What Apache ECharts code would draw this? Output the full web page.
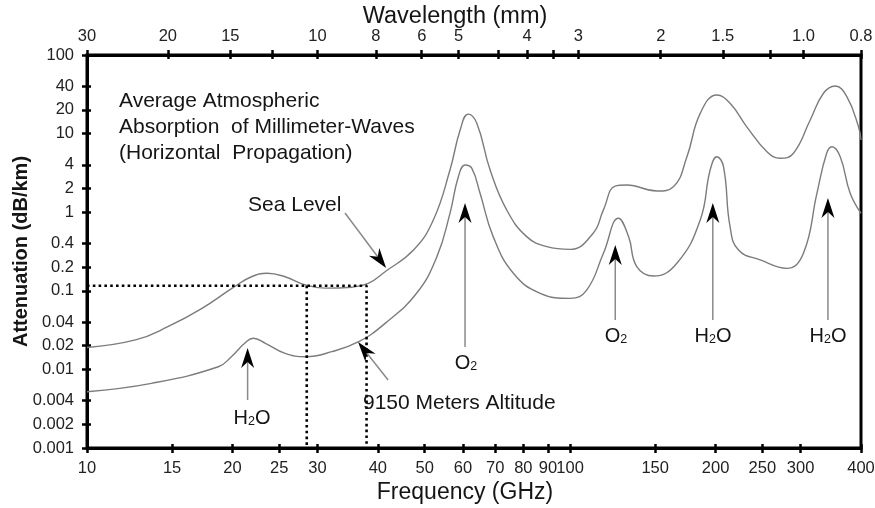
<!DOCTYPE html>
<html>
<head>
<meta charset="utf-8">
<script src="https://cdn.jsdelivr.net/npm/echarts@6/dist/echarts.min.js"></script>
<style>
  html, body { margin: 0; padding: 0; background: #fff; }
  #chart { width: 875px; height: 508px; }
</style>
</head>
<body>
<div id="chart"></div>
<script>
// Axis ticks
const freqTicks = [10, 15, 20, 25, 30, 40, 50, 60, 70, 80, 90, 100, 150, 200, 250, 300, 400];
const attTicks = [0.001, 0.002, 0.004, 0.01, 0.02, 0.04, 0.1, 0.2, 0.4, 1, 2, 4, 10, 20, 40, 100];
const attTickLabels = ['0.001', '0.002', '0.004', '0.01', '0.02', '0.04', '0.1', '0.2', '0.4', '1', '2', '4', '10', '20', '40', '100'];
// Wavelength scale along the top edge (frequency position of each tick, mm label)
const waveTickFreq = [10, 14.7, 19.8, 24.2, 30, 39.6, 49.3, 58.8, 70.9, 81.5, 92.4, 104, 154, 207, 259, 304, 400];
const waveTickLabels = ['30', '20', '15', '', '10', '8', '6', '5', '', '4', '', '3', '2', '1.5', '', '1.0', '0.8'];

// Sea level attenuation (GHz, dB/km)
const seaFreq = [10, 12.6, 14.7, 17.3, 20.2, 21.9, 23.6, 25.7, 28.3, 31.1, 35.3, 38.2, 41.4, 47.4, 52.1, 56.4, 59.2, 61.5, 64.1, 68.3, 73.9, 81.3, 89.5, 100, 111.6, 117.2, 123.9, 131, 151.2, 163.6, 174.5, 185.9, 201.2, 214.3, 232.1, 255.5, 272.1, 289.9, 314, 334.5, 353.7, 373.9, 395.3, 400];
const seaAtt = [0.019, 0.0237, 0.0349, 0.0598, 0.113, 0.151, 0.167, 0.151, 0.119, 0.108, 0.111, 0.124, 0.175, 0.33, 0.796, 3.44, 11.1, 17.7, 13.5, 3.44, 1.07, 0.489, 0.364, 0.337, 0.54, 1.07, 2.15, 2.22, 1.86, 2.11, 5.08, 18.1, 31.0, 24.3, 12.2, 5.89, 4.85, 5.62, 14.9, 32.6, 40.4, 29.5, 12.2, 8.3];

// 9150 m altitude attenuation (GHz, dB/km)
const altFreq = [10, 13.6, 18.7, 19.9, 21.2, 22.1, 23.4, 25.7, 28.3, 32.1, 36.5, 41.4, 48.1, 53.0, 56.4, 58.7, 60.6, 62.6, 65.1, 69.3, 76.3, 86.7, 100, 108.2, 117.2, 125.9, 132.1, 137.4, 148.8, 166.3, 185.9, 194.9, 201.2, 207.7, 214.3, 223.1, 247.4, 280.8, 304, 324.2, 339.6, 348.3, 362.3, 379.9, 400];
const altAtt = [0.0052, 0.00665, 0.0108, 0.0145, 0.0215, 0.0249, 0.0215, 0.016, 0.0145, 0.0168, 0.0225, 0.0385, 0.093, 0.272, 0.968, 2.83, 3.98, 3.61, 1.74, 0.489, 0.167, 0.093, 0.08, 0.102, 0.30, 0.836, 0.489, 0.203, 0.154, 0.224, 0.796, 3.44, 5.08, 3.79, 0.655, 0.33, 0.247, 0.193, 0.30, 1.74, 5.62, 6.81, 5.08, 1.74, 0.97];

// Dotted reference level and the two frequencies where it meets the curves
const refLevel = 0.116;
const refFreqs = [28.5, 37.9];

// Annotation arrows: [tail, tip] in (GHz, dB/km)
const arrows = [
  [[34.2, 0.977], [41.6, 0.195]],
  [[42.0, 0.00733], [36.4, 0.0223]],
  [[21.5, 0.00408], [21.5, 0.0187]],
  [[60.6, 0.0193], [60.6, 1.31]],
  [[124, 0.0425], [124, 0.383]],
  [[197.4, 0.0425], [197.4, 1.31]],
  [[341.7, 0.0425], [341.7, 1.52]]
];

const FONT = '"Liberation Sans", Arial, Helvetica, sans-serif';
const INK = '#151515';

function pickLabel(ticks, labels, v) {
  for (let i = 0; i < ticks.length; i++) {
    if (Math.abs(Math.log10(v) - Math.log10(ticks[i])) < 1e-4) return labels[i];
  }
  return '';
}

const chart = echarts.init(document.getElementById('chart'), null, { renderer: 'canvas' });

const gridRect = { left: 87, right: 14, top: 55, bottom: 60 };

const baseX = {
  type: 'log', logBase: 10, min: 10, max: 400, gridIndex: 0,
  splitLine: { show: false }, minorTick: { show: false }
};
const baseY = {
  type: 'log', logBase: 10, min: 0.001, max: 100, gridIndex: 0,
  splitLine: { show: false }, minorTick: { show: false }
};
const tickLabelStyle = { fontSize: 16.5, color: '#222', fontFamily: FONT };

const option = {
  animation: false,
  backgroundColor: '#fff',
  textStyle: { fontFamily: FONT },
  grid: Object.assign({
    show: true, borderColor: '#000', borderWidth: 3,
    containLabel: false, outerBoundsMode: 'none'
  }, gridRect),
  xAxis: [
    Object.assign({}, baseX, {
      position: 'bottom',
      axisLine: { show: true, lineStyle: { color: '#000', width: 3 } },
      axisTick: { show: true, length: 5, lineStyle: { color: '#000', width: 2.5 }, customValues: freqTicks },
      axisLabel: Object.assign({
        show: true, margin: 12,
        customValues: freqTicks,
        formatter: v => pickLabel(freqTicks, freqTicks.map(String), v)
      }, tickLabelStyle)
    }),
    Object.assign({}, baseX, {
      position: 'top',
      axisLine: { show: true, lineStyle: { color: '#000', width: 3 } },
      axisTick: { show: true, length: 5, lineStyle: { color: '#000', width: 2.5 }, customValues: waveTickFreq },
      axisLabel: Object.assign({
        show: true, margin: 10,
        customValues: waveTickFreq,
        formatter: v => pickLabel(waveTickFreq, waveTickLabels, v)
      }, tickLabelStyle)
    }),
    // inner halves of the crossing tick marks
    Object.assign({}, baseX, {
      position: 'bottom',
      axisLine: { show: false }, axisLabel: { show: false },
      axisTick: { show: true, inside: true, length: 4, lineStyle: { color: '#000', width: 2.5 }, customValues: freqTicks }
    }),
    Object.assign({}, baseX, {
      position: 'top',
      axisLine: { show: false }, axisLabel: { show: false },
      axisTick: { show: true, inside: true, length: 4, lineStyle: { color: '#000', width: 2.5 }, customValues: waveTickFreq }
    })
  ],
  yAxis: [
    Object.assign({}, baseY, {
      position: 'left',
      name: 'Attenuation (dB/km)', nameLocation: 'middle', nameGap: 56, nameRotate: 90, nameMoveOverlap: false,
      nameTextStyle: { fontFamily: FONT, fontSize: 20, fontWeight: 'bold', color: INK },
      axisLine: { show: true, lineStyle: { color: '#000', width: 3 } },
      axisTick: { show: true, length: 5, lineStyle: { color: '#000', width: 2.5 }, customValues: attTicks },
      axisLabel: Object.assign({
        show: true, margin: 13,
        customValues: attTicks,
        formatter: v => pickLabel(attTicks, attTickLabels, v)
      }, tickLabelStyle)
    }),
    Object.assign({}, baseY, {
      position: 'left',
      axisLine: { show: false }, axisLabel: { show: false },
      axisTick: { show: true, inside: true, length: 4, lineStyle: { color: '#000', width: 2.5 }, customValues: attTicks }
    })
  ],
  series: [
    {
      name: 'Sea Level', type: 'line', xAxisIndex: 0, yAxisIndex: 0,
      data: seaFreq.map((f, i) => [f, seaAtt[i]]),
      showSymbol: false, smooth: 0.45,
      lineStyle: { color: '#7c7c7c', width: 1.4 }
    },
    {
      name: '9150 Meters Altitude', type: 'line', xAxisIndex: 0, yAxisIndex: 0,
      data: altFreq.map((f, i) => [f, altAtt[i]]),
      showSymbol: false, smooth: 0.45,
      lineStyle: { color: '#7c7c7c', width: 1.4 }
    },
    {
      name: 'level', type: 'line', xAxisIndex: 0, yAxisIndex: 0,
      data: [[10, refLevel], [refFreqs[1], refLevel], [refFreqs[1], 0.001]],
      showSymbol: false,
      lineStyle: { color: '#000', width: 2.6, type: [2.6, 3.2] }
    },
    {
      name: 'level2', type: 'line', xAxisIndex: 0, yAxisIndex: 0,
      data: [[refFreqs[0], refLevel], [refFreqs[0], 0.001]],
      showSymbol: false,
      lineStyle: { color: '#000', width: 2.6, type: [2.6, 3.2] }
    }
  ]
};

chart.setOption(option);

// Annotation arrows and labels
function arrowGraphics() {
  const out = [];
  arrows.forEach(([tail, tip]) => {
    const p0 = chart.convertToPixel({ xAxisIndex: 0, yAxisIndex: 0 }, tail);
    const p1 = chart.convertToPixel({ xAxisIndex: 0, yAxisIndex: 0 }, tip);
    const dx = p1[0] - p0[0], dy = p1[1] - p0[1];
    const len = Math.hypot(dx, dy);
    const ux = dx / len, uy = dy / len;
    const nx = -uy, ny = ux;
    const L = 20, W = 6.5, notch = 6;
    out.push({
      type: 'line', silent: true, z: 5,
      shape: { x1: p0[0], y1: p0[1], x2: p1[0] - ux * (L - notch), y2: p1[1] - uy * (L - notch) },
      style: { stroke: '#8a8a8a', lineWidth: 1.5 }
    });
    out.push({
      type: 'polygon', silent: true, z: 6,
      shape: {
        points: [
          [p1[0], p1[1]],
          [p1[0] - ux * L + nx * W, p1[1] - uy * L + ny * W],
          [p1[0] - ux * (L - notch), p1[1] - uy * (L - notch)],
          [p1[0] - ux * L - nx * W, p1[1] - uy * L - ny * W]
        ]
      },
      style: { fill: '#000' }
    });
  });
  return out;
}

function textEl(x, y, text, opts) {
  return {
    type: 'text', x: x, y: y, silent: true, z: 7,
    style: Object.assign({
      text: text, fill: INK, font: '21px ' + FONT,
      textAlign: 'left', textVerticalAlign: 'middle'
    }, opts || {})
  };
}

const subRich = {
  n: { fontSize: 20, fontFamily: FONT, color: INK, lineHeight: 22, verticalAlign: 'bottom' },
  s: { fontSize: 12.5, fontFamily: FONT, color: INK, lineHeight: 22, verticalAlign: 'bottom' }
};
function formula(x, y, parts) {
  return {
    type: 'text', x: x, y: y, silent: true, z: 7,
    style: {
      text: parts, rich: subRich, fill: INK,
      align: 'center', verticalAlign: 'middle'
    }
  };
}

const H2O = '{n|H}{s|2}{n|O}';
const O2 = '{n|O}{s|2}';

chart.setOption({
  graphic: [].concat(
    arrowGraphics(),
    [
      // axis titles
      textEl(455, 17, 'Wavelength (mm)', { font: '23.5px ' + FONT, textAlign: 'center' }),
      textEl(465, 493, 'Frequency (GHz)', { font: '23px ' + FONT, textAlign: 'center' }),
      // plot annotations
      textEl(119, 101, 'Average Atmospheric'),
      textEl(119, 127, 'Absorption  of Millimeter-Waves'),
      textEl(119, 153, '(Horizontal  Propagation)'),
      textEl(248, 205, 'Sea Level'),
      textEl(363, 403, '9150 Meters Altitude'),
      formula(252, 417, H2O),
      formula(466, 362, O2),
      formula(616, 335, O2),
      formula(713, 335, H2O),
      formula(828, 335, H2O)
    ]
  )
});
</script>
</body>
</html>
